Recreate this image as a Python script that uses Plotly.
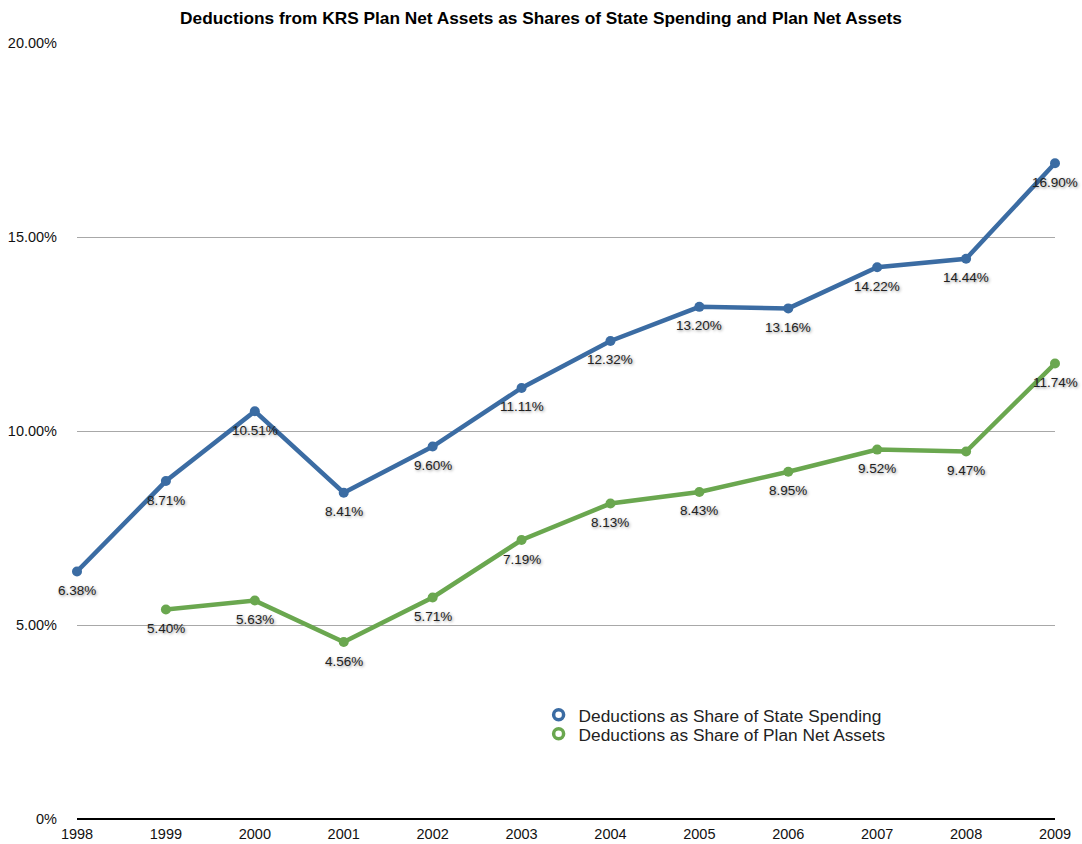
import plotly.graph_objects as go

years = [1998, 1999, 2000, 2001, 2002, 2003, 2004, 2005, 2006, 2007, 2008, 2009]
share_state_spending = [6.38, 8.71, 10.51, 8.41, 9.60, 11.11, 12.32, 13.20, 13.16, 14.22, 14.44, 16.90]
share_plan_assets_years = [1999, 2000, 2001, 2002, 2003, 2004, 2005, 2006, 2007, 2008, 2009]
share_plan_assets = [5.40, 5.63, 4.56, 5.71, 7.19, 8.13, 8.43, 8.95, 9.52, 9.47, 11.74]

y_tickvals = [0, 5, 10, 15, 20]
y_ticktext = ["0%", "5.00%", "10.00%", "15.00%", "20.00%"]

blue = "#3b6ca3"
green = "#6aa74f"
font_family = "Liberation Sans, Arial, sans-serif"
label_font = dict(family=font_family, size=13.5, color="#222222",
                  shadow="1px 1px 3px rgba(0,0,0,0.45)")

fig = go.Figure()

series = [
    ("Deductions as Share of State Spending", years, share_state_spending, blue, "legend", 0.134),
    ("Deductions as Share of Plan Net Assets", share_plan_assets_years, share_plan_assets, green, "legend2", 0.1095),
]

for name, xs, ys, color, _, _ in series:
    fig.add_trace(go.Scatter(
        x=xs, y=ys, mode="lines+markers", name=name,
        line=dict(color=color, width=4.5),
        marker=dict(color=color, size=10),
        cliponaxis=False,
        showlegend=False,
    ))
    # value labels under each point
    for x, y in zip(xs, ys):
        fig.add_annotation(
            x=x, y=y, text=f"{y:.2f}%", showarrow=False,
            xanchor="center", yanchor="middle", yshift=-19,
            font=label_font,
        )

# legend entries drawn as open rings, one compact legend per series
legend_layout = {}
for name, xs, ys, color, legend_id, legend_y in series:
    fig.add_trace(go.Scatter(
        x=[None], y=[None], mode="markers", name=name,
        marker=dict(symbol="circle-open", size=10, color=color,
                    line=dict(width=3.5, color=color)),
        showlegend=True, legend=legend_id,
    ))
    legend_layout[legend_id] = dict(
        x=0.472, y=legend_y, xanchor="left", yanchor="middle",
        bgcolor="rgba(0,0,0,0)", font=dict(size=17.3, color="#222222"),
        itemwidth=30,
    )

fig.update_layout(
    width=1082, height=844,
    margin=dict(l=77, r=27, t=43, b=25),
    paper_bgcolor="white", plot_bgcolor="white",
    font=dict(family=font_family, size=14, color="#111111"),
    title=dict(text="<b>Deductions from KRS Plan Net Assets as Shares of State Spending and Plan Net Assets</b>",
               x=0.5, xanchor="center", y=0.979, yanchor="middle",
               font=dict(family=font_family, size=17.3, color="#000000")),
    showlegend=True,
    **legend_layout,
)

fig.update_xaxes(
    range=[1998, 2009], tickvals=years, ticktext=[str(y) for y in years],
    showgrid=False, zeroline=False, showline=False,
    ticks="", ticklabelstandoff=4, automargin=False,
    tickfont=dict(size=14.5, color="#111111"),
)
fig.update_yaxes(
    range=[0, 20], tickvals=y_tickvals, ticktext=y_ticktext,
    showgrid=True, gridcolor="#a8a8a8", gridwidth=1,
    zeroline=True, zerolinecolor="#000000", zerolinewidth=2,
    showline=False, ticks="", ticklabelstandoff=19, automargin=False,
    tickfont=dict(size=14.5, color="#111111"),
)

fig.write_html("out.html")
